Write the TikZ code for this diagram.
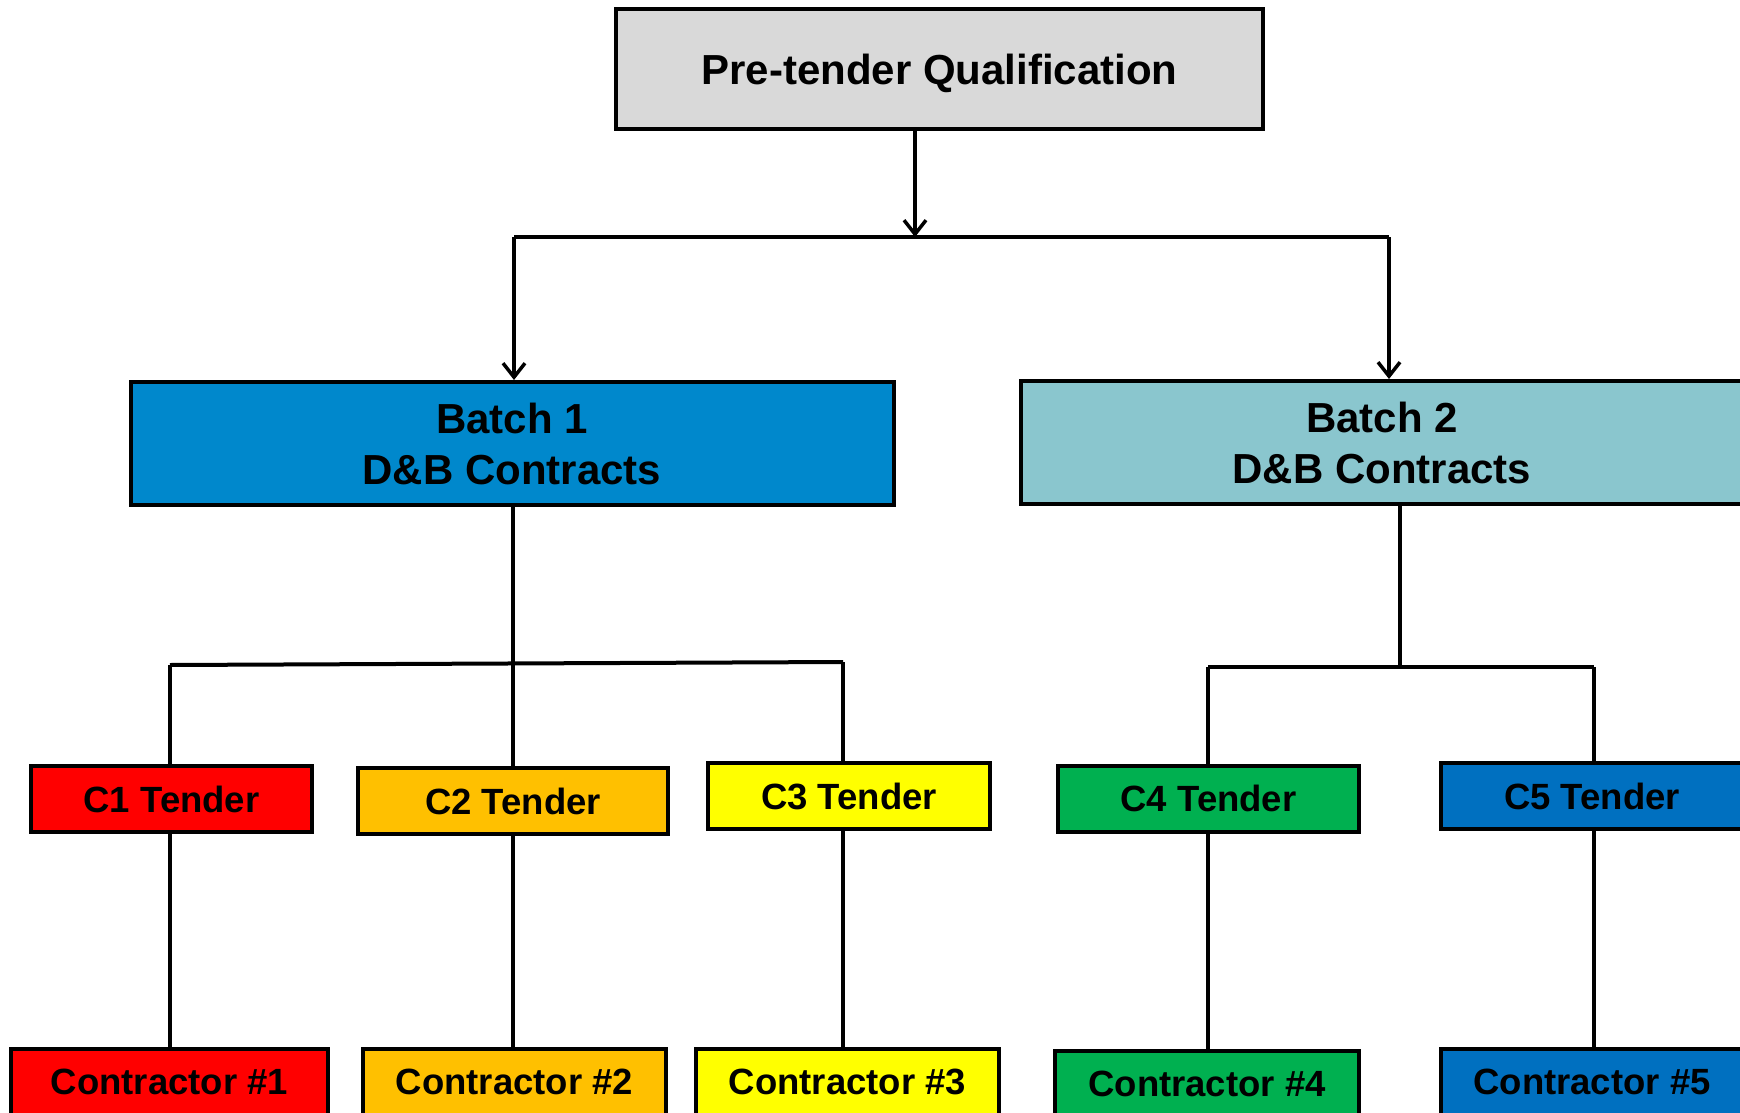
\documentclass[tikz,border=0pt]{standalone}
\usepackage{fontspec}
\setmainfont{Liberation Sans}
\usetikzlibrary{arrows.meta}
\definecolor{cgray}{HTML}{D9D9D9}
\definecolor{cbone}{HTML}{0088CC}
\definecolor{cbtwo}{HTML}{8AC6CE}
\definecolor{cred}{HTML}{FF0000}
\definecolor{corange}{HTML}{FFC000}
\definecolor{cyellow}{HTML}{FFFF00}
\definecolor{cgreen}{HTML}{00B050}
\definecolor{cblue}{HTML}{0070C0}
\tikzset{
  boxbase/.style={draw=black, line width=4pt, inner sep=0pt, align=center, font=\bfseries},
  bigbox/.style={boxbase, font=\bfseries\fontsize{42}{51}\selectfont},
  smallbox/.style={boxbase, minimum height=66pt, font=\bfseries\fontsize{36.5}{40}\selectfont},
  conn/.style={draw=black, line width=4pt},
  arr/.style={conn, -{Straight Barb[length=14pt,width=22pt,line width=3.5pt]}},
}
\begin{document}
\begin{tikzpicture}[x=1pt,y=-1pt]
\useasboundingbox (0,0) rectangle (1740,1113);
\clip (0,0) rectangle (1740,1113);
% top
\node[bigbox, fill=cgray, minimum width=647pt, minimum height=120pt, text height=32pt, text depth=0pt] (top) at (939.5,69) {Pre-tender Qualification};
% batches
\node[bigbox, fill=cbone, minimum width=763pt, minimum height=123pt] (b1) at (512,443.5) {Batch 1\\D\&B Contracts};
\node[bigbox, fill=cbtwo, minimum width=722pt, minimum height=123pt] (b2) at (1382,442.5) {Batch 2\\D\&B Contracts};
% tenders
\node[smallbox, fill=cred, minimum width=281pt] (t1) at (171.5,799) {C1 Tender};
\node[smallbox, fill=corange, minimum width=310pt] (t2) at (513,801) {C2 Tender};
\node[smallbox, fill=cyellow, minimum width=282pt] (t3) at (849,796) {C3 Tender};
\node[smallbox, fill=cgreen, minimum width=301pt] (t4) at (1208.5,798.5) {C4 Tender};
\node[smallbox, fill=cblue, minimum width=302pt] (t5) at (1592,796) {C5 Tender};
% contractors
\node[smallbox, fill=cred, minimum width=317pt] (k1) at (169.5,1082) {Contractor \#1};
\node[smallbox, fill=corange, minimum width=303pt] (k2) at (514.5,1082) {Contractor \#2};
\node[smallbox, fill=cyellow, minimum width=303pt] (k3) at (847.5,1082) {Contractor \#3};
\node[smallbox, fill=cgreen, minimum width=304pt] (k4) at (1207,1084) {Contractor \#4};
\node[smallbox, fill=cblue, minimum width=302pt] (k5) at (1592,1082) {Contractor \#5};
% junction coordinates
\coordinate (jt) at (915,237);
\coordinate (jl) at (514,237);
\coordinate (jr) at (1389,237);
\coordinate (h1) at (513,664);
\coordinate (h1l) at (170,665);
\coordinate (h1r) at (843,662);
\coordinate (h2) at (1400,667);
\coordinate (h2l) at (1208,667);
\coordinate (h2r) at (1594,667);
% top connectors
\draw[arr] (jt |- top.south) -- (jt);
\draw[conn] (jl) -- (jr);
\draw[arr] (jl) -- (jl |- b1.north);
\draw[arr] (jr) -- (jr |- b2.north);
% batch 1
\draw[conn] (h1 |- b1.south) -- (h1);
\draw[conn] (h1l) -- (h1r);
\draw[conn] (h1l) -- (h1l |- t1.north);
\draw[conn] (h1) -- (h1 |- t2.north);
\draw[conn] (h1r) -- (h1r |- t3.north);
% batch 2
\draw[conn] (h2 |- b2.south) -- (h2);
\draw[conn] (h2l) -- (h2r);
\draw[conn] (h2l) -- (h2l |- t4.north);
\draw[conn] (h2r) -- (h2r |- t5.north);
% tenders to contractors
\draw[conn] (h1l |- t1.south) -- (h1l |- k1.north);
\draw[conn] (h1 |- t2.south) -- (h1 |- k2.north);
\draw[conn] (h1r |- t3.south) -- (h1r |- k3.north);
\draw[conn] (h2l |- t4.south) -- (h2l |- k4.north);
\draw[conn] (h2r |- t5.south) -- (h2r |- k5.north);
\end{tikzpicture}
\end{document}
